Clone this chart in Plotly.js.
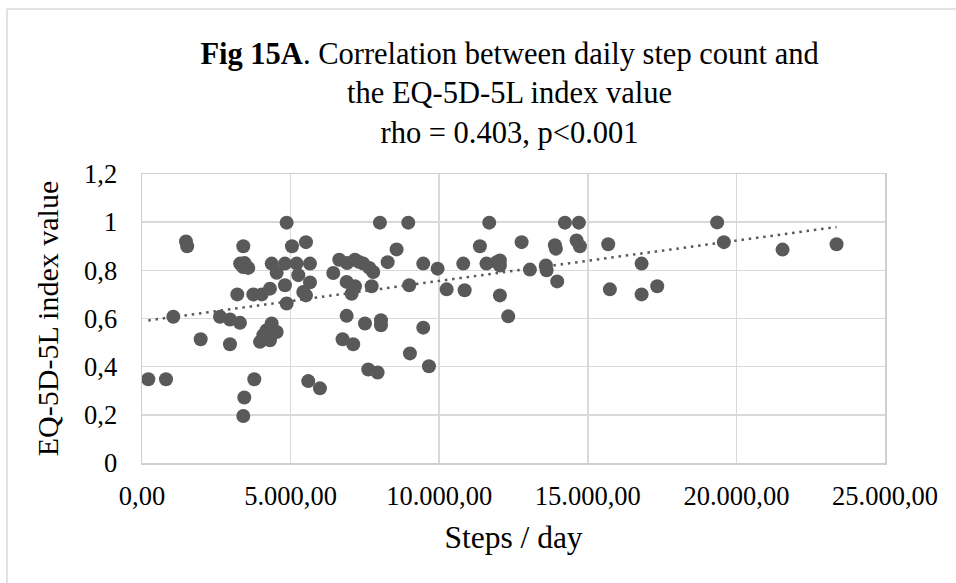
<!DOCTYPE html>
<html>
<head>
<meta charset="utf-8">
<script src="https://cdn.plot.ly/plotly-3.0.1.min.js"></script>
<style>html,body{margin:0;padding:0;background:#fff;}#chart{width:956px;height:583px;}</style>
</head>
<body>
<div id="chart"></div>
<script>
// Daily step count per participant
const steps = [
  212, 807, 1054, 1480, 1520, 1974, 2624, 2960, 3297, 2960,
  3207, 3300, 3400, 3576, 3450, 3408, 3408, 3442, 3778, 3745,
  4027, 4306, 3970, 4083, 4195, 4306, 4363, 4531, 4363, 4531,
  4810, 4867, 4810, 4867, 5046, 5203, 5259, 5426, 5517, 5517,
  5652, 5652, 5594, 5988, 6436, 6637, 7165, 7445, 7781, 6886,
  7165, 7053, 7727, 6900, 7300, 7650, 8006, 8959, 11683, 8567,
  8265, 9463, 10809, 11590, 11930, 9946, 8992, 10250, 10856, 12043,
  6886, 7502, 8040, 8040, 9463, 6749, 7106, 9015, 9655, 7613,
  7928, 11370, 14230, 14700, 12773, 13893, 13927, 14622, 14734, 15687,
  12043, 12043, 13052, 13590, 13614, 16810, 13971, 15743, 16810, 17336,
  12323, 19353, 19578, 21553, 23370
];
// EQ-5D-5L index value per participant
const eqIndex = [
  0.348, 0.348, 0.607, 0.92, 0.90, 0.514, 0.607, 0.596, 0.582, 0.493,
  0.70, 0.828, 0.814, 0.81, 0.83, 0.90, 0.195, 0.272, 0.348, 0.70,
  0.70, 0.724, 0.503, 0.531, 0.551, 0.51, 0.579, 0.544, 0.828, 0.79,
  0.828, 0.998, 0.738, 0.662, 0.90, 0.828, 0.78, 0.71, 0.696, 0.917,
  0.828, 0.75, 0.34, 0.31, 0.789, 0.844, 0.844, 0.828, 0.793, 0.752,
  0.734, 0.703, 0.734, 0.83, 0.835, 0.81, 0.998, 0.998, 0.998, 0.887,
  0.834, 0.828, 0.828, 0.828, 0.834, 0.807, 0.738, 0.721, 0.717, 0.696,
  0.611, 0.579, 0.593, 0.572, 0.562, 0.514, 0.493, 0.455, 0.402, 0.388,
  0.376, 0.90, 0.998, 0.998, 0.917, 0.904, 0.89, 0.924, 0.90, 0.908,
  0.841, 0.82, 0.803, 0.82, 0.80, 0.828, 0.754, 0.721, 0.70, 0.734,
  0.609, 0.999, 0.917, 0.886, 0.908
];
const xTickVals = [0, 5000, 10000, 15000, 20000, 25000];
const yTickVals = [0, 0.2, 0.4, 0.6, 0.8, 1, 1.2];

// Linear (least squares) trendline over the data range
const n = steps.length;
const mx = steps.reduce((a, b) => a + b, 0) / n;
const my = eqIndex.reduce((a, b) => a + b, 0) / n;
let sxy = 0, sxx = 0;
for (let i = 0; i < n; i++) { sxy += (steps[i] - mx) * (eqIndex[i] - my); sxx += (steps[i] - mx) ** 2; }
const slope = sxy / sxx, icpt = my - slope * mx;
const xMin = Math.min(...steps), xMax = Math.max(...steps);
const trendX = [xMin, xMax];
const trendY = trendX.map(v => icpt + slope * v);

const serif = 'Liberation Serif, Times New Roman, serif';
const grid = '#d9d9d9';

const data = [
  {
    x: steps, y: eqIndex, type: 'scatter', mode: 'markers',
    marker: {color: '#595959', size: 14, line: {width: 0}},
    hoverinfo: 'x+y'
  },
  {
    x: trendX, y: trendY, type: 'scatter', mode: 'lines',
    line: {color: '#595959', width: 2.5, dash: '2.5px,4.8px'},
    hoverinfo: 'skip'
  }
];

const layout = {
  width: 956, height: 583,
  margin: {l: 142, r: 71, t: 174, b: 120},
  paper_bgcolor: '#ffffff', plot_bgcolor: '#ffffff',
  separators: ',.',
  showlegend: false,
  font: {family: serif, color: '#000000', size: 26},
  title: {
    text: '<b>Fig 15A</b>. Correlation between daily step count and<br>the EQ-5D-5L index value<br>rho = 0.403, p<0.001',
    font: {family: serif, size: 30.5, color: '#000'},
    xref: 'container', yref: 'container',
    x: 0.533, xanchor: 'center', y: 0.891, yanchor: 'top'
  },
  xaxis: {
    range: [0, 25000], tickvals: xTickVals, tickformat: ',.2f',
    showgrid: true, gridcolor: grid, gridwidth: 1.5,
    showline: true, linecolor: '#cfcfcf', linewidth: 1.5, mirror: true,
    zeroline: false, ticks: '', ticklabelstandoff: 9,
    tickfont: {family: serif, size: 26.5, color: '#000'},
    title: {text: 'Steps / day', font: {family: serif, size: 31.5, color: '#000'}, standoff: 15}
  },
  yaxis: {
    range: [0, 1.2], tickvals: yTickVals,
    showgrid: true, gridcolor: grid, gridwidth: 1.5,
    showline: true, linecolor: '#cfcfcf', linewidth: 1.5, mirror: true,
    zeroline: false, ticks: '', ticklabelstandoff: 18,
    tickfont: {family: serif, size: 26.5, color: '#000'},
    title: {text: 'EQ-5D-5L index value', font: {family: serif, size: 30, color: '#000'}, standoff: 16}
  },
  shapes: [
    {type: 'line', xref: 'paper', yref: 'paper',
     x0: (7 - 142) / 743, x1: (956 - 142) / 743, y0: (463 - 9) / 289, y1: (463 - 9) / 289,
     line: {color: '#d9d9d9', width: 1.5}},
    {type: 'line', xref: 'paper', yref: 'paper',
     x0: (7 - 142) / 743, x1: (7 - 142) / 743, y0: (463 - 9) / 289, y1: (463 - 590) / 289,
     line: {color: '#d9d9d9', width: 1.5}}
  ]
};

Plotly.newPlot('chart', data, layout, {displayModeBar: false, staticPlot: true});
</script>
</body>
</html>
